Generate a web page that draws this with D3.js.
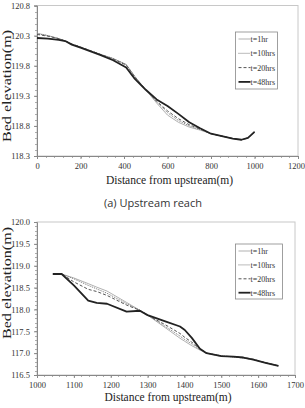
<!DOCTYPE html>
<html>
<head>
<meta charset="utf-8">
<script src="https://cdn.jsdelivr.net/npm/d3@7"></script>
<style>
  body { margin: 0; background: #fff; }
</style>
</head>
<body>
<div id="chart"></div>
<script>
// series names (legend)
var seriesNames = ["t=1hr", "t=10hrs", "t=20hrs", "t=48hrs"];

// upstream reach
var upX = [0, 50, 100, 130, 160, 200, 290, 350, 410, 450, 500, 550, 600, 650, 700, 750, 800, 850, 900, 940, 970, 1000];
var up1hr  = [120.34, 120.30, 120.25, 120.21, 120.16, 120.11, 119.99, 119.92, 119.82, 119.62, 119.40, 119.18, 118.98, 118.86, 118.78, 118.73, 118.67, 118.63, 118.59, 118.57, 118.60, 118.70];
var up10hr = [120.33, 120.30, 120.25, 120.21, 120.16, 120.11, 119.99, 119.92, 119.82, 119.62, 119.40, 119.20, 119.02, 118.89, 118.80, 118.74, 118.67, 118.63, 118.59, 118.57, 118.60, 118.70];
var up20hr = [120.32, 120.29, 120.25, 120.21, 120.16, 120.11, 119.99, 119.91, 119.81, 119.61, 119.40, 119.21, 119.05, 118.92, 118.82, 118.75, 118.67, 118.63, 118.59, 118.57, 118.60, 118.70];
var up48hr = [120.26, 120.25, 120.23, 120.21, 120.15, 120.10, 119.98, 119.89, 119.77, 119.58, 119.40, 119.24, 119.13, 119.00, 118.86, 118.76, 118.67, 118.63, 118.59, 118.57, 118.60, 118.70];
var upXTicks = [0, 200, 400, 600, 800, 1000, 1200];
var upYTicks = [118.3, 118.8, 119.3, 119.8, 120.3, 120.8];

// downstream reach
var dnX = [1043, 1067, 1100, 1139, 1162, 1190, 1243, 1279, 1300, 1350, 1388, 1401, 1420, 1442, 1460, 1500, 1533, 1560, 1587, 1620, 1655];
var dn1hr  = [118.81, 118.81, 118.72, 118.59, 118.51, 118.42, 118.16, 117.98, 117.87, 117.57, 117.34, 117.27, 117.17, 117.07, 117.00, 116.94, 116.91, 116.89, 116.85, 116.78, 116.71];
var dn10hr = [118.81, 118.81, 118.70, 118.55, 118.47, 118.37, 118.13, 117.98, 117.87, 117.60, 117.39, 117.31, 117.21, 117.09, 117.00, 116.94, 116.91, 116.89, 116.85, 116.78, 116.71];
var dn20hr = [118.81, 118.81, 118.63, 118.46, 118.41, 118.32, 118.10, 117.98, 117.87, 117.64, 117.45, 117.36, 117.25, 117.10, 117.00, 116.93, 116.92, 116.90, 116.86, 116.78, 116.71];
var dn48hr = [118.81, 118.81, 118.55, 118.20, 118.15, 118.13, 117.95, 117.97, 117.87, 117.72, 117.61, 117.53, 117.35, 117.10, 117.00, 116.93, 116.92, 116.90, 116.85, 116.78, 116.71];
var dnXTicks = [1000, 1100, 1200, 1300, 1400, 1500, 1600, 1700];
var dnYTicks = [116.5, 117.0, 117.5, 118.0, 118.5, 119.0, 119.5, 120.0];

var SERIF = "'Liberation Serif', 'Times New Roman', 'DejaVu Serif', serif";

var styles = [
  { stroke: "#a8a8a8", width: 0.9, dash: null },
  { stroke: "#777", width: 1, dash: "1,1" },
  { stroke: "#555", width: 1, dash: "3,2" },
  { stroke: "#222", width: 1.8, dash: null }
];

var svg = d3.select("#chart").append("svg")
  .attr("width", 305)
  .attr("height", 408);

function drawPanel(cfg) {
  var x = d3.scaleLinear().domain(cfg.xDomain).range([cfg.left, cfg.right]);
  var y = d3.scaleLinear().domain(cfg.yDomain).range([cfg.bottom, cfg.top]);
  var g = svg.append("g");

  // plot frame
  g.append("rect")
    .attr("x", cfg.left).attr("y", cfg.top)
    .attr("width", cfg.right - cfg.left).attr("height", cfg.bottom - cfg.top)
    .attr("fill", "none").attr("stroke", "#c8c8c8").attr("stroke-width", 1);

  // minor ticks
  var yMinor = d3.range(cfg.yDomain[0], cfg.yDomain[1] + 1e-6, 0.1);
  g.selectAll(".ymin").data(yMinor).enter().append("line")
    .attr("x1", cfg.left - 2).attr("x2", cfg.left)
    .attr("y1", function (d) { return Math.round(y(d)) + 0.5; })
    .attr("y2", function (d) { return Math.round(y(d)) + 0.5; })
    .attr("stroke", "#999").attr("stroke-width", 0.8);
  var xMinor = d3.range(cfg.xDomain[0], cfg.xDomain[1] + 1e-6, cfg.xMinorStep);
  g.selectAll(".xmin").data(xMinor).enter().append("line")
    .attr("x1", function (d) { return Math.round(x(d)) + 0.5; })
    .attr("x2", function (d) { return Math.round(x(d)) + 0.5; })
    .attr("y1", cfg.bottom).attr("y2", cfg.bottom + 2)
    .attr("stroke", "#999").attr("stroke-width", 0.8);

  // axes
  var yAxis = g.append("g").attr("transform", "translate(" + cfg.left + ",0)")
    .call(d3.axisLeft(y).tickValues(cfg.yTicks).tickSize(3).tickFormat(d3.format(".1f")));
  var xAxis = g.append("g").attr("transform", "translate(0," + cfg.bottom + ")")
    .call(d3.axisBottom(x).tickValues(cfg.xTicks).tickSize(3).tickFormat(d3.format("d")));
  [yAxis, xAxis].forEach(function (a) {
    a.attr("font-family", null).attr("font-size", null);
    a.select(".domain").attr("stroke", "#888");
    a.selectAll(".tick line").attr("stroke", "#888");
    a.selectAll("text").attr("fill", "#333")
      .style("font-size", "8.5px").style("font-family", SERIF);
  });
  yAxis.selectAll("text").attr("x", -7);
  xAxis.selectAll("text").attr("y", 7);
  // last x label sits at the right edge
  xAxis.selectAll(".tick:last-of-type text").attr("dx", cfg.lastDx);

  // lines
  var line = d3.line()
    .x(function (d) { return x(d[0]); })
    .y(function (d) { return y(d[1]); });
  cfg.series.forEach(function (s, i) {
    var pts = cfg.xs.map(function (v, k) { return [v, s[k]]; });
    g.append("path")
      .datum(pts)
      .attr("d", line)
      .attr("fill", "none")
      .attr("stroke", styles[i].stroke)
      .attr("stroke-width", styles[i].width)
      .attr("stroke-dasharray", styles[i].dash)
      .attr("stroke-linejoin", "round");
  });

  // legend
  var lg = g.append("g");
  lg.append("rect")
    .attr("x", cfg.legend.x).attr("y", cfg.legend.y)
    .attr("width", cfg.legend.w).attr("height", cfg.legend.h)
    .attr("fill", "#fff").attr("stroke", "#888").attr("stroke-width", 0.8);
  seriesNames.forEach(function (n, i) {
    var yy = cfg.legend.y + 7 + i * cfg.legend.step;
    lg.append("line")
      .attr("x1", cfg.legend.x + 3).attr("x2", cfg.legend.x + 15)
      .attr("y1", yy).attr("y2", yy)
      .attr("stroke", styles[i].stroke)
      .attr("stroke-width", styles[i].width)
      .attr("stroke-dasharray", styles[i].dash);
    lg.append("text")
      .attr("x", cfg.legend.x + 15).attr("y", yy + 3)
      .style("font-size", "8px").style("font-family", SERIF).attr("fill", "#333")
      .text(n);
  });

  // axis titles
  g.append("text")
    .attr("x", (cfg.left + cfg.right) / 2 + 2).attr("y", cfg.xTitleY)
    .attr("text-anchor", "middle").attr("fill", "#222")
    .style("font-size", "11.5px").style("font-family", SERIF)
    .text("Distance from upstream(m)");
  g.append("text")
    .attr("transform", "translate(" + 11 + "," + cfg.yTitleC + ") rotate(-90)")
    .attr("text-anchor", "middle").attr("fill", "#222")
    .style("font-size", "11.5px").style("font-family", SERIF)
    .attr("textLength", 112).attr("lengthAdjust", "spacingAndGlyphs")
    .text("Bed elevation(m)");
}

drawPanel({
  xDomain: [0, 1200], yDomain: [118.3, 120.8],
  left: 37, right: 298, top: 5.5, bottom: 156,
  xTicks: upXTicks, yTicks: upYTicks, xMinorStep: 40, lastDx: -2,
  xs: upX, series: [up1hr, up10hr, up20hr, up48hr],
  legend: { x: 235.5, y: 32, w: 42, h: 57, step: 14.3 },
  xTitleY: 184, yTitleC: 86
});

svg.append("text")
  .attr("x", 153).attr("y", 207)
  .attr("text-anchor", "middle").attr("fill", "#333")
  .style("font-size", "11px")
  .style("font-family", "'Open Sans', 'Noto Sans', sans-serif")
  .text("(a) Upstream reach");

drawPanel({
  xDomain: [1000, 1700], yDomain: [116.5, 120.0],
  left: 37, right: 295, top: 222, bottom: 375,
  xTicks: dnXTicks, yTicks: dnYTicks, xMinorStep: 20, lastDx: 0,
  xs: dnX, series: [dn1hr, dn10hr, dn20hr, dn48hr],
  legend: { x: 235.5, y: 244, w: 47, h: 55, step: 13.9 },
  xTitleY: 401, yTitleC: 283
});
</script>
</body>
</html>
